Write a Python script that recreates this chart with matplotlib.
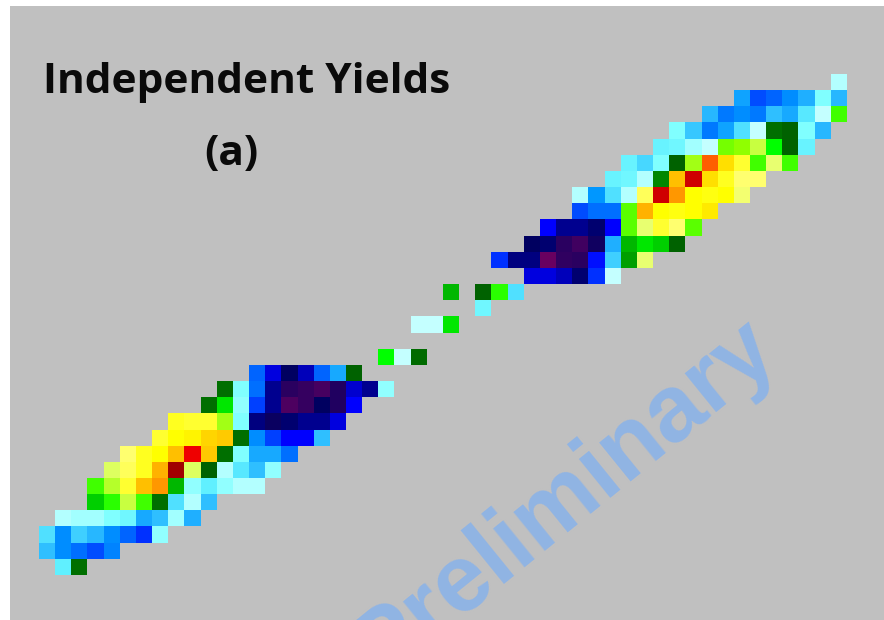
import numpy as np
import matplotlib
matplotlib.use('Agg')
import matplotlib.pyplot as plt
from matplotlib.colors import LinearSegmentedColormap

# yield level per cell, each row is (first column, values)
row_00 = [(49, [49])]
row_01 = [(43, [32, 23, 25, 29, 34, 46, 35])]
row_02 = [(41, [35, 27, 29, 27, 36, 33, 41, 50, 63])]
row_03 = [(39, [46, 37, 27, 32, 40, 50, 54, 51, 46, 35])]
row_04 = [(38, [43, 44, 48, 50, 65, 66, 69, 60, 51, 43])]
row_05 = [(36, [43, 39, 46, 51, 67, 92, 83, 77, 63, 72, 63])]
row_06 = [(35, [43, 44, 49, 55, 86, 97, 83, 78, 74, 74])]
row_07 = [(33, [49, 30, 40, 49, 75, 97, 89, 80, 79, 80, 73])]
row_08 = [(33, [23, 26, 26, 64, 87, 80, 79, 80, 82])]
row_09 = [(31, [18, 12, 12, 10, 18, 64, 72, 77, 74, 64])]
row_10 = [(30, [9, 10, 5, 3, 7.5, 34, 57, 59, 58, 51])]
row_11 = [(28, [21, 11, 11, 0, 4.5, 5, 19, 38, 56, 72])]
row_12 = [(30, [16, 16, 14, 10, 21, 50])]
row_13 = [(25, [57]), (27, [51, 62, 40])]
row_14 = [(27, [44])]
row_15 = [(23, [50, 50, 59])]
row_16 = []
row_17 = [(21, [60, 50, 53])]
row_18 = [(13, [25, 16, 9, 14, 25, 33, 51])]
row_19 = [(11, [54, 46, 26, 12, 5, 4, 2.5, 6, 15, 12, 47])]
row_20 = [(10, [54, 59, 47, 22, 12, 2, 4, 9, 6, 18])]
row_21 = [(8, [78, 77, 77, 67, 46, 11, 8, 10, 12, 12, 16])]
row_22 = [(7, [77, 80, 81, 84, 85, 54, 29, 22, 18, 18, 36])]
row_23 = [(5, [74, 78, 80, 86, 95, 85, 54, 46, 33, 33, 26])]
row_24 = [(4, [71, 75, 78, 87, 100, 71, 51, 49, 41, 36, 47])]
row_25 = [(3, [63, 68, 77, 86, 89, 57, 47, 42, 47, 49, 49])]
row_26 = [(3, [58, 62, 69, 63, 54, 40, 49, 36])]
row_27 = [(1, [49, 48, 48, 46, 44, 33, 36, 48, 34])]
row_28 = [(0, [40, 29, 38, 35, 29, 25, 21, 47])]
row_29 = [(0, [36, 29, 26, 23, 28])]
row_30 = [(1, [42, 54])]

rows = [row_00, row_01, row_02, row_03, row_04, row_05, row_06, row_07,
        row_08, row_09, row_10, row_11, row_12, row_13, row_14, row_15,
        row_16, row_17, row_18, row_19, row_20, row_21, row_22, row_23,
        row_24, row_25, row_26, row_27, row_28, row_29, row_30]

n_cols = 50
grid = np.full((len(rows), n_cols), np.nan)
for r, parts in enumerate(rows):
    for start, vals in parts:
        grid[r, start:start + len(vals)] = vals

# colour scale of the picture, blue side then a jump to dark green
levels = [0, 3, 6, 9, 12, 15, 18, 22, 26, 30, 34, 38, 42, 46, 50, 50.3, 50.35,
          54, 56, 58, 60, 63, 66, 69, 72, 74, 77, 80, 83, 86, 89, 92, 95, 97, 100]
colours = ['#680060', '#400060', '#200060', '#000060', '#000090', '#0000d0',
           '#0000ff', '#0040ff', '#0070ff', '#0098ff', '#20b0ff', '#40d0ff',
           '#60f0ff', '#80ffff', '#c4ffff', '#c4ffff', '#006000', '#007000',
           '#00a000', '#00d000', '#00ff00', '#40ff00', '#90ff00', '#c8ff40',
           '#e8ff70', '#ffff70', '#ffff30', '#ffff00', '#ffe000', '#ffc000',
           '#ff9800', '#ff6000', '#f00000', '#d00000', '#a00000']
cmap = LinearSegmentedColormap.from_list(
    'yields', [(l / 100, c) for l, c in zip(levels, colours)], N=4096)
cmap.set_bad((0, 0, 0, 0))

W, H = 884, 620
cell = 16.15
x0, y0 = 39, 74.7     # pixel position of the first cell
left, top = 9.5, 6    # grey panel

fig = plt.figure(figsize=(W / 100, H / 100), dpi=100, facecolor='white')
ax = fig.add_axes([left / W, 0, (W - left) / W, (H - top) / H])
ax.set_facecolor('#c0c0c0')
ax.imshow(np.ma.masked_invalid(grid), cmap=cmap, vmin=0, vmax=100,
          interpolation='nearest', aspect='auto',
          extent=(0, n_cols, len(rows), 0))
ax.set_xlim((left - x0) / cell, (W - x0) / cell)
ax.set_ylim((H - y0) / cell, (top - y0) / cell)
ax.set_xticks([])
ax.set_yticks([])
for s in ax.spines.values():
    s.set_visible(False)

fig.text(43 / W, 1 - 93 / H, 'Independent Yields', family='Open Sans', weight='bold',
         fontsize=30.5, color='#0a0a0a', ha='left', va='baseline')
fig.text(231 / W, 1 - 165 / H, '(a)', family='Open Sans', weight='bold',
         fontsize=30.5, color='#0a0a0a', ha='center', va='baseline')
fig.text(780 / W, 1 - 355 / H, 'Preliminary', family='Liberation Sans', weight='bold',
         fontsize=68, color='#90b4e4', rotation=39, rotation_mode='anchor',
         ha='right', va='baseline')

fig.savefig('out.png', dpi=100)
